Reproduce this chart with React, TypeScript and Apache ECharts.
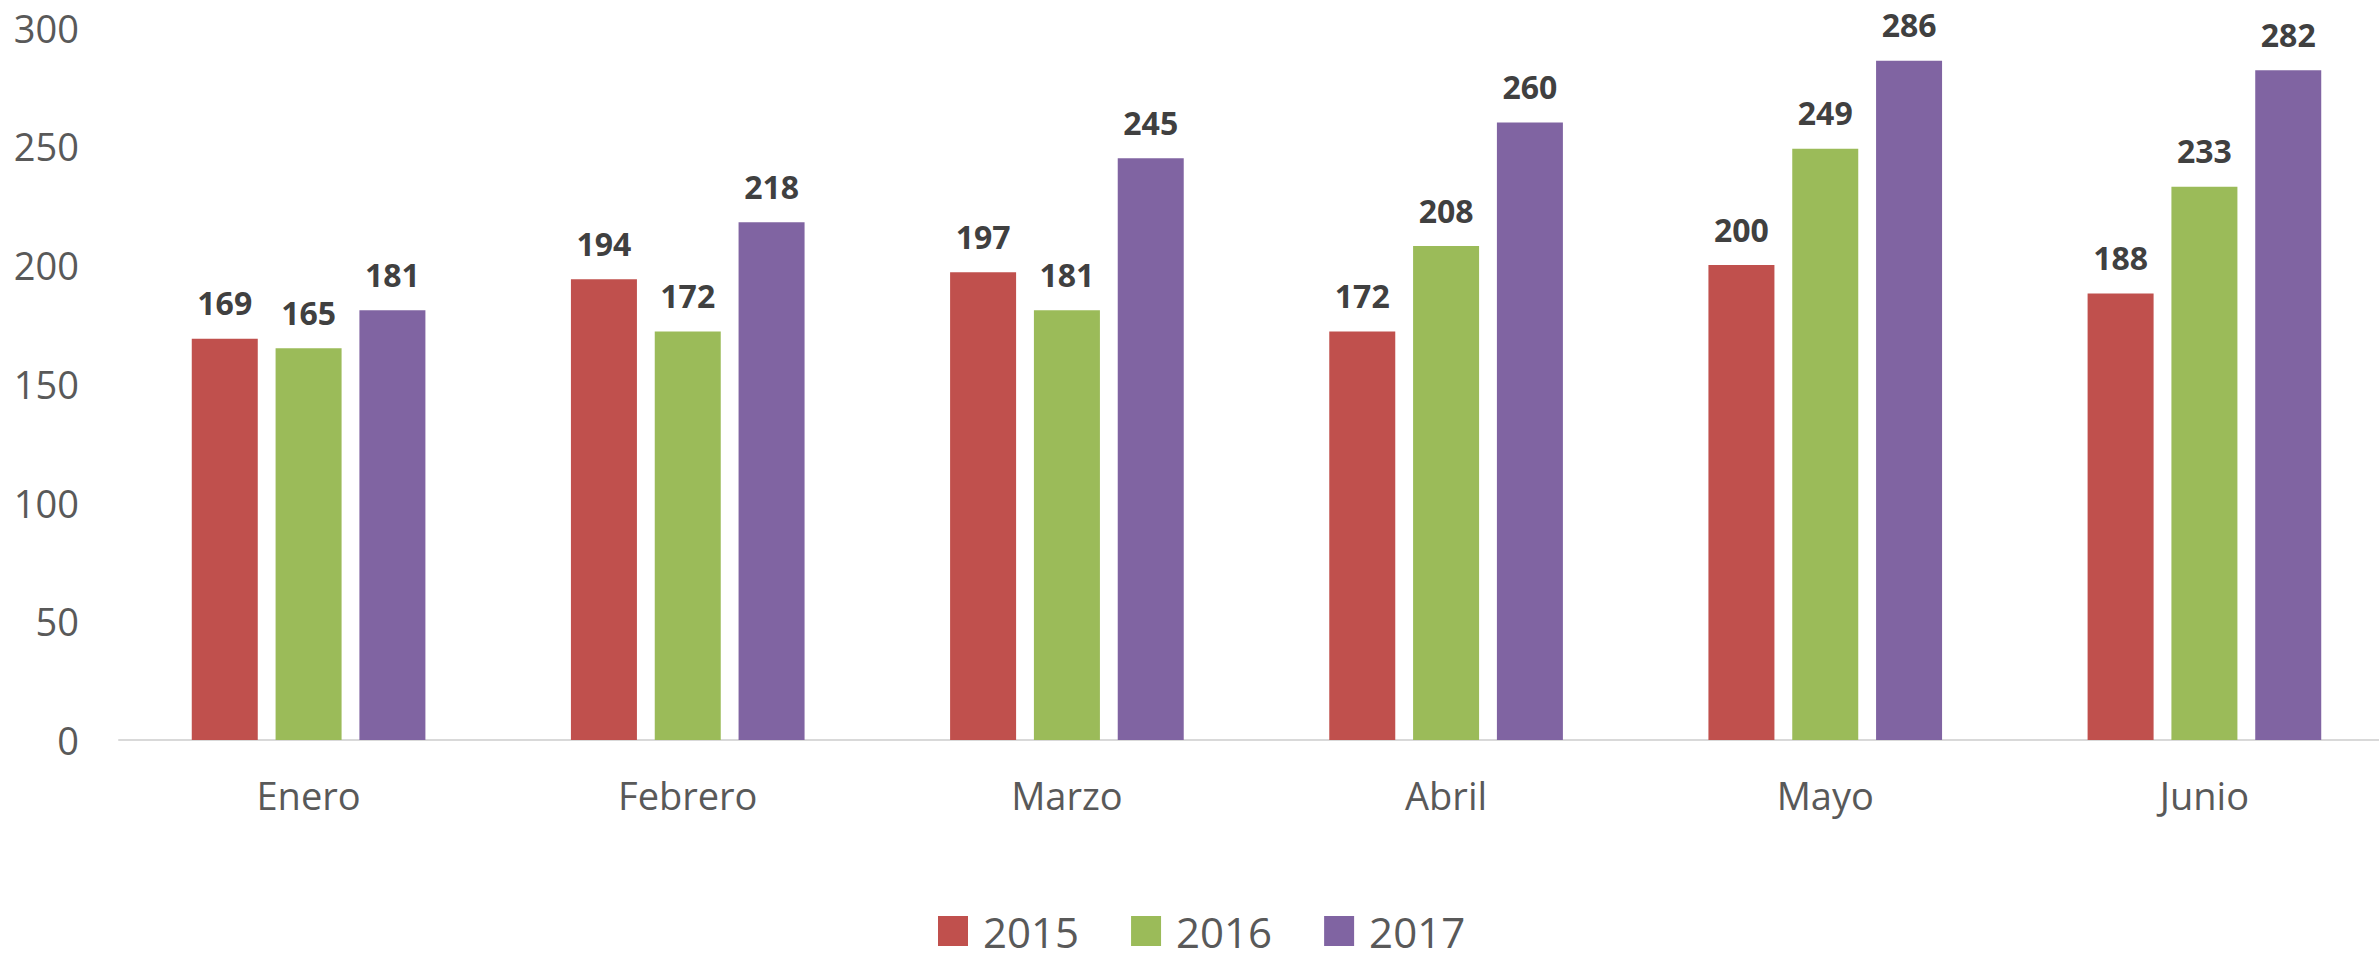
import React, { useEffect, useRef } from "react";
import * as echarts from "echarts";

const categories = ["Enero", "Febrero", "Marzo", "Abril", "Mayo", "Junio"];
const seriesNames = ["2015", "2016", "2017"];
const values2015 = [169, 194, 197, 172, 200, 188];
const values2016 = [165, 172, 181, 208, 249, 233];
const values2017 = [181, 218, 245, 260, 286, 282];
const colors = ["#C0504D", "#9BBB59", "#8064A2"];

const FONT = "'Open Sans', 'Liberation Sans', sans-serif";

export default function App() {
  const ref = useRef<HTMLDivElement>(null);
  useEffect(() => {
    if (!ref.current) return;
    const chart = echarts.init(ref.current, undefined, { renderer: "svg" });
    const data = [values2015, values2016, values2017];
    chart.setOption({
      animation: false,
      backgroundColor: "#ffffff",
      grid: {
        left: 119,
        top: 27.5,
        width: 2275,
        height: 712.5,
        containLabel: false,
        outerBoundsMode: "none",
      },
      legend: {
        left: 938,
        top: 910,
        padding: 0,
        itemWidth: 30,
        itemHeight: 30,
        itemGap: 52,
        icon: "rect",
        data: seriesNames,
        textStyle: {
          fontFamily: FONT,
          fontSize: 42,
          color: "#595959",
          padding: [0, 0, 0, 10],
        },
      },
      xAxis: {
        type: "category",
        data: categories,
        axisLine: { show: true, lineStyle: { color: "#D9D9D9", width: 2 } },
        axisTick: { show: false },
        axisLabel: {
          margin: 36,
          fontFamily: FONT,
          fontSize: 38,
          color: "#595959",
        },
        splitLine: { show: false },
      },
      yAxis: {
        type: "value",
        min: 0,
        max: 300,
        interval: 50,
        axisLine: { show: false },
        axisTick: { show: false },
        splitLine: { show: false },
        axisLabel: {
          margin: 40,
          fontFamily: FONT,
          fontSize: 38,
          color: "#595959",
        },
      },
      series: seriesNames.map((name, i) => ({
        name,
        type: "bar",
        data: data[i],
        barWidth: 66,
        barGap: "27%",
        itemStyle: { color: colors[i] },
        label: {
          show: true,
          position: "top",
          distance: 20,
          fontFamily: FONT,
          fontSize: 32,
          fontWeight: "bold",
          color: "#404040",
        },
      })),
    });
    return () => chart.dispose();
  }, []);
  return (
    <div
      ref={ref}
      style={{ position: "fixed", left: 0, top: 0, width: 2379, height: 960 }}
    />
  );
}
